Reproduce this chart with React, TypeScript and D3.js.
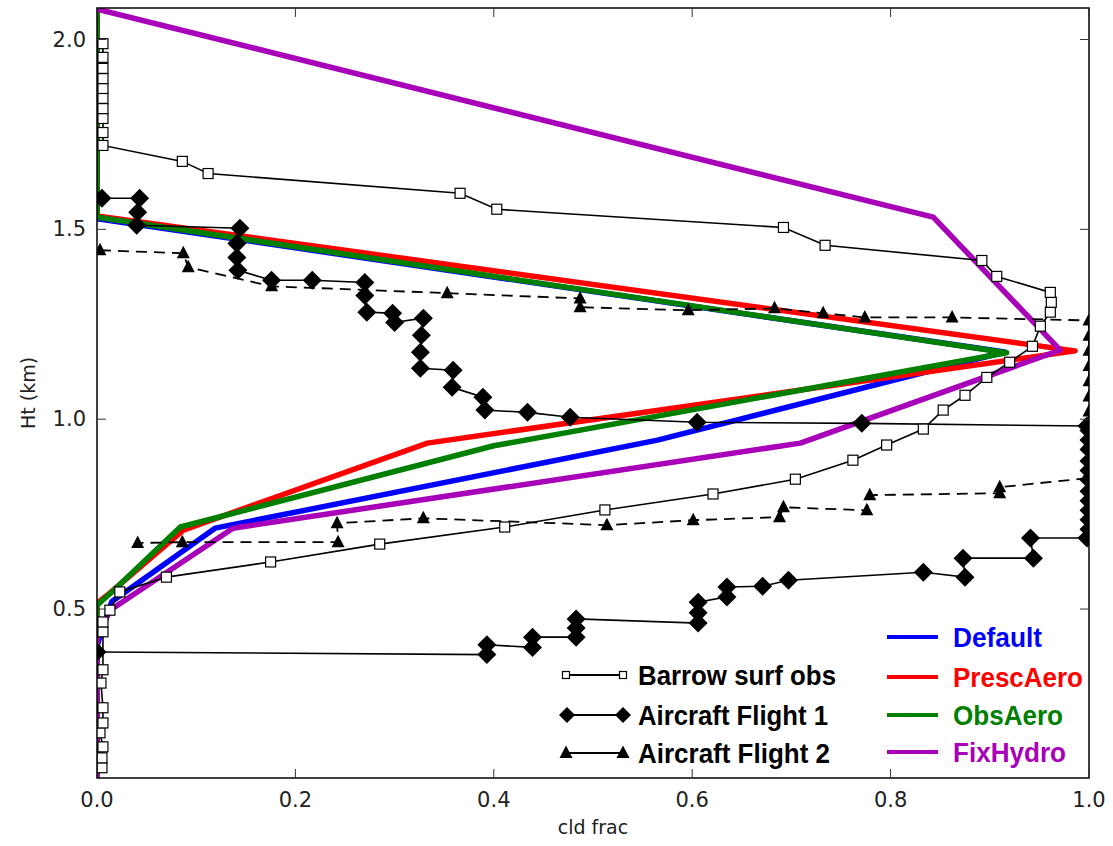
import React from 'react';
import * as d3 from 'd3';

// model runs: [cld frac, height km]
const defaultRun: [number, number][] = [[0, 2.08], [0, 1.528], [0.915, 1.177], [0.565, 0.945], [0.119, 0.713], [0.015, 0.52], [0.003, 0.43], [0, 0.4], [0, 0.055]];
const prescAero: [number, number][] = [[0, 2.08], [0, 1.535], [0.986, 1.18], [0.333, 0.937], [0.087, 0.708], [0.012, 0.54], [0, 0.515], [0, 0.055]];
const obsAero: [number, number][] = [[0, 2.08], [0, 1.532], [0.917, 1.175], [0.4, 0.93], [0.084, 0.716], [0.015, 0.545], [0, 0.51], [0, 0.055]];
const fixHydro: [number, number][] = [[0, 2.08], [0.843, 1.532], [0.971, 1.182], [0.709, 0.937], [0.137, 0.713], [0.015, 0.5], [0, 0.44], [0, 0.055]];

const barrow: [number, number][] = [
  [0.005, 0.082], [0.005, 0.108], [0.006, 0.137], [0.003, 0.174], [0.006, 0.2], [0.006, 0.24], [0.004, 0.305], [0.006, 0.34],
  [0.006, 0.44], [0.006, 0.466], [0.013, 0.497], [0.023, 0.545], [0.07, 0.584], [0.175, 0.624], [0.285, 0.671], [0.411, 0.716],
  [0.512, 0.761], [0.621, 0.803], [0.704, 0.842], [0.762, 0.892], [0.796, 0.932], [0.833, 0.974], [0.853, 1.024], [0.875, 1.063],
  [0.897, 1.11], [0.92, 1.15], [0.943, 1.192], [0.951, 1.245], [0.961, 1.282], [0.962, 1.308], [0.961, 1.334], [0.907, 1.376],
  [0.892, 1.418], [0.734, 1.458], [0.692, 1.505], [0.403, 1.553], [0.366, 1.595], [0.112, 1.647], [0.086, 1.679], [0.006, 1.721],
  [0.006, 1.755], [0.006, 1.792], [0.006, 1.818], [0.006, 1.845], [0.006, 1.871], [0.006, 1.897], [0.006, 1.924], [0.006, 1.953],
  [0.006, 1.989]];

const flight1: [number, number][] = [
  [0, 0.387], [0.393, 0.38], [0.393, 0.406], [0.439, 0.399], [0.439, 0.426], [0.483, 0.426], [0.483, 0.45], [0.483, 0.474],
  [0.606, 0.463], [0.606, 0.49], [0.606, 0.518], [0.635, 0.532], [0.635, 0.558], [0.671, 0.56], [0.697, 0.576],
  [0.833, 0.597], [0.875, 0.584], [0.873, 0.634], [0.944, 0.634], [0.941, 0.687], [0.998, 0.687],
  [1.0, 0.71], [1.0, 0.735], [1.0, 0.76], [1.0, 0.785], [1.0, 0.81], [1.0, 0.84], [1.0, 0.865], [1.0, 0.89], [1.0, 0.92], [1.0, 0.945], [1.0, 0.97],
  [0.998, 0.982], [0.771, 0.989], [0.605, 0.992], [0.477, 1.005], [0.434, 1.018], [0.391, 1.024], [0.389, 1.058], [0.358, 1.084],
  [0.359, 1.129], [0.326, 1.134], [0.326, 1.176], [0.327, 1.221], [0.329, 1.266], [0.3, 1.255], [0.298, 1.279], [0.272, 1.282],
  [0.27, 1.326], [0.27, 1.36], [0.217, 1.366], [0.176, 1.366], [0.142, 1.392], [0.141, 1.426], [0.141, 1.463], [0.144, 1.503],
  [0.04, 1.511], [0.041, 1.545], [0.043, 1.582], [0.005, 1.582]];

const flight2: [number, number][] = [
  [0.003, 1.445], [0.087, 1.437], [0.092, 1.4], [0.176, 1.35], [0.353, 1.332], [0.487, 1.318], [0.487, 1.295], [0.596, 1.287],
  [0.683, 1.292], [0.732, 1.279], [0.774, 1.268], [0.862, 1.268], [1.0, 1.26], [1.0, 1.22], [1.0, 1.18], [1.0, 1.14], [1.0, 1.1],
  [1.0, 1.06], [1.0, 1.02], [1.0, 0.98], [1.0, 0.94], [1.0, 0.9], [1.0, 0.86], [1.0, 0.845], [0.91, 0.821], [0.91, 0.805],
  [0.779, 0.8], [0.776, 0.76], [0.692, 0.768], [0.688, 0.742], [0.601, 0.734], [0.514, 0.721], [0.329, 0.739], [0.242, 0.726],
  [0.243, 0.676], [0.086, 0.676], [0.041, 0.674]];

const xTicks = [0, 0.2, 0.4, 0.6, 0.8, 1.0];
const yTicks = [0.5, 1.0, 1.5, 2.0];

const modelNames = ['Default', 'PrescAero', 'ObsAero', 'FixHydro'];
const modelColors = ['#0000ff', '#ff0000', '#007f00', '#a800b8'];
const modelRuns = [defaultRun, prescAero, obsAero, fixHydro];
const obsNames = ['Barrow surf obs', 'Aircraft Flight 1', 'Aircraft Flight 2'];

const W = 1113, H = 846;
const x = d3.scaleLinear().domain([0, 1]).range([97, 1089]);
const y = d3.scaleLinear().domain([0.055, 2.083]).range([778, 8]);

const line = d3.line<[number, number]>().x(d => x(d[0])).y(d => y(d[1]));

const diamond = (cx: number, cy: number, r = 9.5) => `M${cx},${cy - r}L${cx + r},${cy}L${cx},${cy + r}L${cx - r},${cy}Z`;
const triangle = (cx: number, cy: number) => `M${cx},${cy - 7.5}L${cx + 6.5},${cy + 5}L${cx - 6.5},${cy + 5}Z`;

const Square = ({ cx, cy, s = 5 }: { cx: number; cy: number; s?: number }) => (
  <rect x={cx - s} y={cy - s} width={s * 2} height={s * 2} fill="white" stroke="black" strokeWidth={1.2} />
);

const App = () => {
  const x0 = x.range()[0], x1 = x.range()[1];
  const y0 = y.range()[0], y1 = y.range()[1];
  const legFont = 'Liberation Sans, Arial, sans-serif';
  const obsRows = [675, 715, 753];
  const modRows = [637, 677, 715, 752];
  const obsLen = [198, 190, 192];
  const modLen = [89, 130, 110, 113];
  return (
    <svg width={W} height={H} style={{ position: 'absolute', left: 0, top: 0, background: 'white' }}>
      <defs>
        <clipPath id="plot"><rect x={x0} y={y1} width={x1 - x0} height={y0 - y1} /></clipPath>
      </defs>
      <rect x={0} y={0} width={W} height={H} fill="white" />
      <g clipPath="url(#plot)">
        {modelRuns.map((run, i) => (
          <path key={i} d={line(run) || ''} fill="none" stroke={modelColors[i]} strokeWidth={5.5} strokeLinejoin="round" />
        ))}
        <path d={line(barrow) || ''} fill="none" stroke="black" strokeWidth={1.6} />
        <path d={line(flight1) || ''} fill="none" stroke="black" strokeWidth={1.6} />
        <path d={line(flight2) || ''} fill="none" stroke="black" strokeWidth={1.8} strokeDasharray="11,7" />
        {barrow.map((d, i) => <Square key={'b' + i} cx={x(d[0])} cy={y(d[1])} />)}
        {flight1.map((d, i) => <path key={'f' + i} d={diamond(x(d[0]), y(d[1]))} fill="black" />)}
        {flight2.map((d, i) => <path key={'t' + i} d={triangle(x(d[0]), y(d[1]))} fill="black" />)}
      </g>
      {/* frame and ticks */}
      <rect x={x0} y={y1} width={x1 - x0} height={y0 - y1} fill="none" stroke="black" strokeWidth={1.5} />
      {xTicks.map(t => (
        <g key={'xt' + t}>
          <line x1={x(t)} x2={x(t)} y1={y0} y2={y0 - 9} stroke="#333" strokeWidth={1} />
          <line x1={x(t)} x2={x(t)} y1={y1} y2={y1 + 9} stroke="#333" strokeWidth={1} />
          <text x={x(t)} y={807} textAnchor="middle" fontFamily="DejaVu Sans, sans-serif" fontSize={21} fill="#222">{t.toFixed(1)}</text>
        </g>
      ))}
      {yTicks.map(t => (
        <g key={'yt' + t}>
          <line x1={x0} x2={x0 + 9} y1={y(t)} y2={y(t)} stroke="#333" strokeWidth={1} />
          <line x1={x1} x2={x1 - 9} y1={y(t)} y2={y(t)} stroke="#333" strokeWidth={1} />
          <text x={86} y={y(t) + 7} textAnchor="end" fontFamily="DejaVu Sans, sans-serif" fontSize={21} fill="#222">{t.toFixed(1)}</text>
        </g>
      ))}
      <text x={(x0 + x1) / 2} y={834} textAnchor="middle" fontFamily="DejaVu Sans, sans-serif" fontSize={19} fill="#222">cld frac</text>
      <text transform={`translate(35,${(y0 + y1) / 2}) rotate(-90)`} textAnchor="middle" fontFamily="DejaVu Sans, sans-serif" fontSize={19} fill="#222">Ht (km)</text>

      {/* obs legend */}
      {obsNames.map((n, i) => {
        const cy = obsRows[i];
        return (
          <g key={n}>
            <line x1={565} x2={623} y1={cy} y2={cy} stroke="black" strokeWidth={1.8} />
            {i === 0 && <><Square cx={566} cy={cy} s={3.5} /><Square cx={623} cy={cy} s={3.5} /></>}
            {i === 1 && <><path d={diamond(567, cy, 8)} fill="black" /><path d={diamond(623, cy, 8)} fill="black" /></>}
            {i === 2 && <><path d={triangle(566, cy)} fill="black" /><path d={triangle(623, cy)} fill="black" /></>}
            <text x={638} y={cy + 10} fontFamily={legFont} fontWeight="bold" fontSize={27} fill="black"
              textLength={obsLen[i]} lengthAdjust="spacingAndGlyphs">{n}</text>
          </g>
        );
      })}
      {/* model legend */}
      {modelNames.map((n, i) => {
        const cy = modRows[i];
        return (
          <g key={n}>
            <line x1={887} x2={938} y1={cy} y2={cy} stroke={modelColors[i]} strokeWidth={4} />
            <text x={953} y={cy + 10} fontFamily={legFont} fontWeight="bold" fontSize={27} fill={modelColors[i]}
              textLength={modLen[i]} lengthAdjust="spacingAndGlyphs">{n}</text>
          </g>
        );
      })}
    </svg>
  );
};

export default App;
